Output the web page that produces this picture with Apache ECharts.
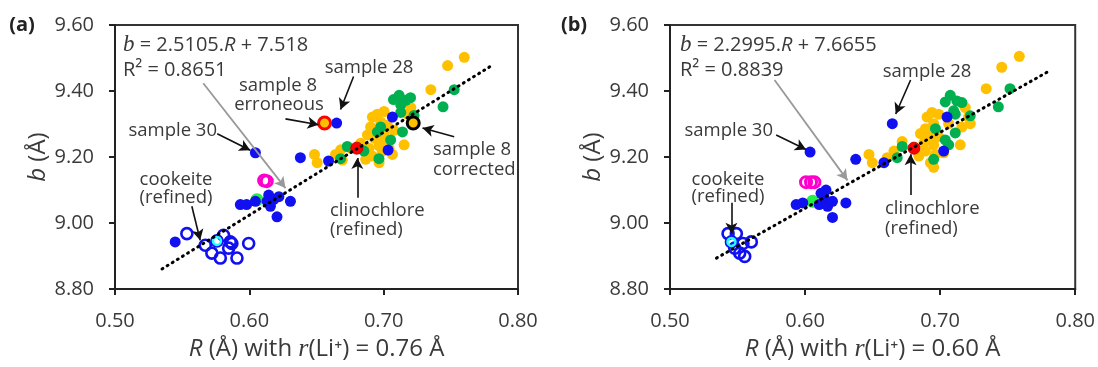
<!DOCTYPE html>
<html>
<head>
<meta charset="utf-8">
<script src="https://cdn.jsdelivr.net/npm/echarts@6.0.0/dist/echarts.min.js"></script>
<style>
  html, body { margin: 0; padding: 0; background: #fff; }
  #chart { width: 1098px; height: 367px; }
</style>
</head>
<body>
<div id="chart"></div>
<script>
// ---- panel (a): r(Li+) = 0.76 A ----
const yellowA = [[0.760,9.502],[0.7476,9.477],[0.7351,9.404],[0.7202,9.350],[0.7214,9.321],[0.6953,9.330],
  [0.7003,9.338],[0.6916,9.321],[0.6978,9.306],[0.7028,9.296],[0.6903,9.291],[0.6948,9.276],[0.6879,9.267],
  [0.6928,9.257],[0.6998,9.250],[0.6966,9.234],[0.6891,9.227],[0.6990,9.218],[0.6916,9.203],[0.6966,9.183],
  [0.6829,9.242],[0.6754,9.227],[0.6680,9.222],[0.6642,9.208],[0.6692,9.191],[0.6879,9.211],[0.7065,9.208],
  [0.7152,9.237],[0.7077,9.281],[0.6485,9.208],[0.6505,9.183],[0.6866,9.193],[0.7040,9.227],[0.7177,9.330],[0.7003,9.271]]
const greenA = [[0.7525,9.404],[0.7442,9.352],[0.7115,9.387],[0.7073,9.374],[0.7165,9.372],[0.7127,9.358],
  [0.7200,9.380],[0.7127,9.335],[0.6978,9.291],[0.6953,9.276],[0.7140,9.276],[0.7052,9.252],[0.6729,9.232],
  [0.6853,9.218],[0.6679,9.195],[0.6965,9.195],[0.7226,9.326]]
const blueA = [[0.665,9.303],[0.7065,9.321],[0.7033,9.221],[0.659,9.188],[0.638,9.198],[0.6045,9.213],
  [0.5933,9.056],[0.598,9.056],[0.6045,9.066],[0.6144,9.085],[0.6132,9.066],[0.618,9.071],[0.6157,9.051],
  [0.6206,9.019],[0.6306,9.066],[0.622,9.080],[0.5448,8.943]]
const limeA = [[0.6057,9.071]]
const magentaA = [[0.611,9.129],[0.613,9.127]]
const ringsA = [[0.5535,8.968],[0.5672,8.933],[0.5808,8.963],[0.5858,8.943],[0.5846,8.924],[0.5995,8.938],
  [0.5721,8.909],[0.5784,8.894],[0.5908,8.894],[0.587,8.938],[0.5759,8.946]]
const cyanA = [[0.5759,8.946]]
const erroneousA = [[0.656,9.303]]
const correctedA = [[0.722,9.303]]
const clinoA = [[0.680,9.227]]
const trendA = [[0.535,8.861],[0.782,9.481]]

// ---- panel (b): r(Li+) = 0.60 A ----
const yellowB = [[0.7586,9.505],[0.7456,9.472],[0.7341,9.407],[0.6940,9.335],[0.6989,9.330],[0.6903,9.321],
  [0.7186,9.350],[0.7210,9.321],[0.7223,9.301],[0.6952,9.301],[0.6891,9.286],[0.6854,9.271],[0.6916,9.262],
  [0.6989,9.262],[0.6879,9.242],[0.6952,9.237],[0.6891,9.218],[0.6965,9.208],[0.6928,9.183],[0.6952,9.169],
  [0.7149,9.237],[0.6719,9.247],[0.6658,9.218],[0.6608,9.198],[0.6473,9.208],[0.6498,9.183],[0.7026,9.213],
  [0.7161,9.291],[0.7063,9.301],[0.6842,9.203]]
const greenB = [[0.7517,9.407],[0.7431,9.352],[0.7075,9.387],[0.7038,9.367],[0.7124,9.370],[0.7161,9.365],
  [0.7100,9.340],[0.7112,9.330],[0.6965,9.286],[0.7223,9.325],[0.7112,9.273],[0.7038,9.252],[0.7063,9.237],
  [0.6719,9.232],[0.6682,9.198],[0.6952,9.193]]
const blueB = [[0.6646,9.301],[0.7051,9.321],[0.7026,9.218],[0.6584,9.183],[0.6375,9.193],[0.6037,9.215],
  [0.5934,9.056],[0.5983,9.061],[0.6118,9.090],[0.6142,9.076],[0.6105,9.056],[0.6167,9.051],[0.6203,9.066],
  [0.6302,9.061],[0.6203,9.017],[0.6155,9.100]]
const limeB = [[0.6056,9.066]]
const magentaB = [[0.6007,9.124],[0.6044,9.124],[0.6069,9.124]]
const ringsB = [[0.543,8.968],[0.5491,8.968],[0.554,8.938],[0.5602,8.943],[0.5479,8.924],[0.5516,8.909],
  [0.5553,8.899],[0.5455,8.943]]
const cyanB = [[0.5455,8.943]]
const clinoB = [[0.6806,9.227]]
const trendB = [[0.5344,8.894],[0.780,9.459]]

const xTicks = [0.5, 0.6, 0.7, 0.8]
const yTicks = [8.8, 9.0, 9.2, 9.4, 9.6]

const FONT = '"Open Sans", sans-serif'
const TXT = '#3a3a3a'

const chart = echarts.init(document.getElementById('chart'))

function xAxis(grid, liRadius) {
  return {
    type: 'value', gridIndex: grid, min: xTicks[0], max: xTicks[xTicks.length - 1], interval: 0.1,
    name: '{i|R} (Å) with {r|r}(Li⁺) = ' + liRadius + ' Å',
    nameLocation: 'middle', nameGap: 46,
    nameTextStyle: {
      fontFamily: FONT, fontSize: 24, color: TXT,
      rich: {
        i: { fontFamily: FONT, fontSize: 24, fontStyle: 'italic', color: TXT },
        r: { fontFamily: '"Liberation Serif", serif', fontSize: 26, fontStyle: 'italic', color: TXT }
      }
    },
    axisLine: { show: true, onZero: false, lineStyle: { color: '#222', width: 2 } },
    axisTick: { show: true, length: 6, lineStyle: { color: '#222', width: 2 } },
    axisLabel: { margin: 22, fontFamily: FONT, fontSize: 20, color: TXT, formatter: v => v.toFixed(2) },
    splitLine: { show: false }
  }
}

function yAxis(grid) {
  return {
    type: 'value', gridIndex: grid, min: yTicks[0], max: yTicks[yTicks.length - 1], interval: 0.2,
    name: '{i|b} (Å)', nameLocation: 'middle', nameGap: 63,
    nameTextStyle: {
      fontFamily: FONT, fontSize: 24, color: TXT,
      rich: { i: { fontFamily: FONT, fontSize: 24, fontStyle: 'italic', color: TXT } }
    },
    axisLine: { show: true, onZero: false, lineStyle: { color: '#222', width: 2 } },
    axisTick: { show: true, length: 6, lineStyle: { color: '#222', width: 2 } },
    axisLabel: { margin: 21, fontFamily: FONT, fontSize: 20, color: TXT, formatter: v => v.toFixed(2) },
    splitLine: { show: false }
  }
}

function dots(grid, data, style, size) {
  return {
    type: 'scatter', xAxisIndex: grid, yAxisIndex: grid, data: data,
    symbol: 'circle', symbolSize: size || 11, itemStyle: Object.assign({ opacity: 1 }, style), silent: true
  }
}

function trend(grid, data) {
  return {
    type: 'line', xAxisIndex: grid, yAxisIndex: grid, data: data, symbol: 'none', silent: true,
    lineStyle: { color: '#000', width: 3, type: [1, 5], cap: 'round' }
  }
}

function arrow(from, to, gray) {
  const ls = gray
    ? { color: '#999', width: 1.8, type: 'solid', curveness: 0.12 }
    : { color: '#111', width: 1.6, type: 'solid', curveness: 0 }
  return [{ coord: from, lineStyle: ls }, { coord: to }]
}

function arrows(grid, list) {
  return {
    type: 'scatter', xAxisIndex: grid, yAxisIndex: grid, data: [], silent: true,
    markLine: {
      silent: true, animation: false, symbol: ['none', 'arrow'], symbolSize: [9, 11],
      label: { show: false }, data: list
    }
  }
}

const yellow = { color: '#FFC000' }
const green = { color: '#00B050' }
const lime = { color: '#22F044' }
const blue = { color: '#1010F0' }
const ring = { color: 'rgba(0,0,0,0)', borderColor: '#1010F0', borderWidth: 2.6 }
const magenta = { color: 'rgba(0,0,0,0)', borderColor: '#FF00CC', borderWidth: 3 }
const cyan = { color: 'rgba(0,0,0,0)', borderColor: '#22FFFF', borderWidth: 2.5 }

function txt(x, y, text, align, extra) {
  return {
    type: 'text', x: x, y: y, silent: true,
    style: Object.assign({
      text: text, fill: TXT, font: '18.5px ' + FONT, align: align || 'center', verticalAlign: 'middle'
    }, extra || {})
  }
}

const eqRich = {
  b: { fontFamily: '"Liberation Serif", serif', fontStyle: 'italic', fontSize: 23, fill: TXT },
  R: { fontFamily: FONT, fontStyle: 'italic', fontSize: 20, fill: TXT }
}

const option = {
  animation: false,
  grid: [
    { left: 115, top: 25, width: 403, height: 271, show: true, borderColor: '#333', borderWidth: 2, backgroundColor: '#fff' },
    { left: 670, top: 25, width: 407, height: 271, show: true, borderColor: '#333', borderWidth: 2, backgroundColor: '#fff' }
  ],
  xAxis: [xAxis(0, '0.76'), xAxis(1, '0.60')],
  yAxis: [yAxis(0), yAxis(1)],
  series: [
    dots(0, yellowA, yellow), dots(0, greenA, green), dots(0, limeA, lime, 13),
    dots(0, ringsA, ring, 11), dots(0, blueA, blue), dots(0, magentaA, magenta, 11), dots(0, cyanA, cyan, 8),
    dots(0, erroneousA, { color: '#FFC000', borderColor: '#FF0000', borderWidth: 3 }, 12),
    dots(0, correctedA, { color: '#FFC000', borderColor: '#000', borderWidth: 3 }, 12),
    dots(0, clinoA, { color: '#FF0000', borderColor: '#CC0000', borderWidth: 1 }, 12),
    trend(0, trendA),
    arrows(0, [
      arrow([0.5761, 9.2706], [0.6007, 9.2206]),
      arrow([0.5572, 9.051], [0.5634, 8.948]),
      arrow([0.5657, 9.4235], [0.6269, 9.106], true),
      arrow([0.6269, 9.3157], [0.6515, 9.298]),
      arrow([0.6776, 9.444], [0.6679, 9.344]),
      arrow([0.7525, 9.2618], [0.7289, 9.288]),
      arrow([0.6804, 9.0765], [0.6804, 9.197])
    ]),

    dots(1, yellowB, yellow), dots(1, greenB, green), dots(1, limeB, lime, 13),
    dots(1, ringsB, ring, 11), dots(1, blueB, blue), dots(1, magentaB, magenta, 11), dots(1, cyanB, cyan, 8),
    dots(1, clinoB, { color: '#FF0000', borderColor: '#CC0000', borderWidth: 1 }, 12),
    trend(1, trendB),
    arrows(1, [
      arrow([0.5786, 9.2667], [0.6007, 9.2226]),
      arrow([0.5455, 9.0618], [0.5455, 8.9676]),
      arrow([0.5774, 9.4333], [0.6314, 9.1294], true),
      arrow([0.6781, 9.4333], [0.6671, 9.3303]),
      arrow([0.6781, 9.0853], [0.6781, 9.2088])
    ])
  ],
  graphic: [
    txt(22, 25, '(a)', 'center', { font: 'bold 20px ' + FONT, fill: '#222' }),
    txt(123, 45, '{b|b} = 2.5105.{R|R} + 7.518', 'left', { rich: eqRich, font: '20px ' + FONT }),
    txt(123, 70, 'R² = 0.8651', 'left', { font: '20px ' + FONT }),
    txt(278, 86, 'sample 8'),
    txt(279, 105, 'erroneous'),
    txt(369, 68, 'sample 28'),
    txt(217, 131, 'sample 30', 'right'),
    txt(176, 180, 'cookeite'),
    txt(176, 198, '(refined)'),
    txt(330, 211, 'clinochlore', 'left'),
    txt(330, 230, '(refined)', 'left'),
    txt(433, 150, 'sample 8', 'left'),
    txt(433, 170, 'corrected', 'left'),

    txt(574, 25, '(b)', 'center', { font: 'bold 20px ' + FONT, fill: '#222' }),
    txt(680, 45, '{b|b} = 2.2995.{R|R} + 7.6655', 'left', { rich: eqRich, font: '20px ' + FONT }),
    txt(680, 70, 'R² = 0.8839', 'left', { font: '20px ' + FONT }),
    txt(773, 131, 'sample 30', 'right'),
    txt(728, 180, 'cookeite'),
    txt(728, 197, '(refined)'),
    txt(927, 72, 'sample 28'),
    txt(885, 209, 'clinochlore', 'left'),
    txt(885, 229, '(refined)', 'left')
  ]
}

chart.setOption(option)
</script>
</body>
</html>
